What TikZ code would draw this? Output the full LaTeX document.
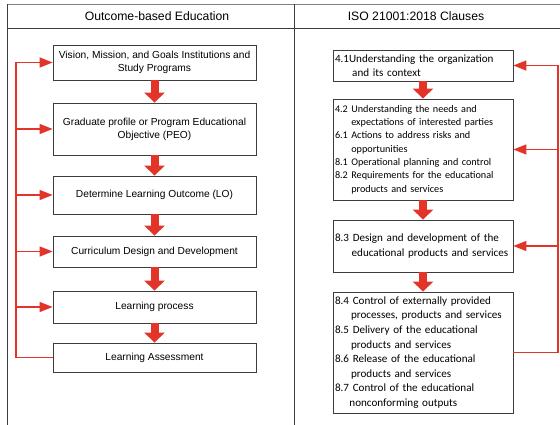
\documentclass[tikz,border=0pt]{standalone}
\usepackage{fontspec}
\setmainfont{Liberation Sans}
\newfontfamily\clausefont{Carlito}
\usetikzlibrary{arrows.meta}
\definecolor{arrowred}{RGB}{226,52,40}
\definecolor{rulegray}{RGB}{60,60,60}
\begin{document}
\begin{tikzpicture}[x=1pt,y=-1pt,
    obebox/.style={draw=rulegray,line width=0.8pt,minimum width=203pt,align=center,font=\fontsize{10.2}{13}\selectfont,inner sep=0pt},
    isobox/.style={draw=rulegray,line width=0.8pt,minimum width=180pt,text width=176pt,align=left,inner xsep=2pt,inner ysep=0pt,font=\clausefont\fontsize{11.1}{14.6}\selectfont},
    flowarrow/.style={arrowred,line width=8pt,-{Triangle[width=20pt,length=10pt]}},
    backline/.style={arrowred,line width=1.4pt},
    backarrow/.style={arrowred,line width=1.4pt,-{Triangle[width=10pt,length=13pt]}}]
    \useasboundingbox (0,0) rectangle (560,425);

    % table
    \draw[gray,line width=0.8pt] (7,4) -- (560,4);
    \draw[rulegray,line width=0.8pt] (7,28) -- (560,28);
    \draw[rulegray,line width=0.8pt] (7,4) -- (7,425);
    \draw[rulegray,line width=0.8pt] (294,4) -- (294,425);
    \node[font=\fontsize{12.2}{14}\selectfont] (lefthead) at (157,16) {Outcome-based Education};
    \node[font=\fontsize{12.2}{14}\selectfont] (righthead) at (416,16) {ISO 21001:2018 Clauses};

    % Outcome-based Education
    \node[obebox,minimum height=35pt] (b1) at (154.5,62.5) {Vision, Mission, and Goals Institutions and\\Study Programs};
    \node[obebox,minimum height=52pt] (b2) at (154.5,129) {Graduate profile or Program Educational\\Objective (PEO)};
    \node[obebox,minimum height=38pt] (b3) at (154.5,195) {Determine Learning Outcome (LO)};
    \node[obebox,minimum height=31pt] (b4) at (154.5,251.5) {Curriculum Design and Development};
    \node[obebox,minimum height=32pt] (b5) at (154.5,307) {Learning process};
    \node[obebox,minimum height=29pt] (b6) at (154.5,357.5) {Learning Assessment};

    \draw[flowarrow] (b1.south) -- (b2.north);
    \draw[flowarrow] (b2.south) -- (b3.north);
    \draw[flowarrow] (b3.south) -- (b4.north);
    \draw[flowarrow] (b4.south) -- (b5.north);
    \draw[flowarrow] (b5.south) -- (b6.north);

    \coordinate (lrail) at (16,0);
    \draw[backline] (b6.west) -- (b6.west -| lrail) -- (b1.west -| lrail);
    \foreach \b in {b1,b2,b3,b4,b5}
        \draw[backarrow] (\b.west -| lrail) -- (\b.west);

    % ISO 21001:2018 clauses
    \node[isobox,minimum height=31pt] (r1) at (423,65.5) {4.1Understanding the organization\\\hspace*{1.55em}and its context};
    \node[isobox,minimum height=101pt,font=\clausefont\fontsize{10.2}{13.3}\selectfont] (r2) at (423,149.5) {4.2 Understanding the needs and\\\hspace*{1.6em}expectations of interested parties\\6.1 Actions to address risks and\\\hspace*{1.6em}opportunities\\8.1 Operational planning and control\\8.2 Requirements for the educational\\\hspace*{1.6em}products and services};
    \node[isobox,minimum height=52pt] (r3) at (423,246) {8.3 Design and development of the\\\hspace*{1.5em}educational products and services};
    \node[isobox,minimum height=121pt] (r4) at (423,352.5) {8.4 Control of externally provided\\\hspace*{1.45em}processes, products and services\\8.5 Delivery of the educational\\\hspace*{1.45em}products and services\\8.6 Release of the educational\\\hspace*{1.45em}products and services\\8.7 Control of the educational\\\hspace*{1.3em}nonconforming outputs};

    \draw[flowarrow] (r1.south) -- (r2.north);
    \draw[flowarrow] (r2.south) -- (r3.north);
    \draw[flowarrow] (r3.south) -- (r4.north);

    \coordinate (rrail) at (558,0);
    \draw[backline] (r4.east) -- (r4.east -| rrail) -- (r1.east -| rrail);
    \foreach \r in {r1,r2,r3}
        \draw[backarrow] (\r.east -| rrail) -- (\r.east);
\end{tikzpicture}
\end{document}
